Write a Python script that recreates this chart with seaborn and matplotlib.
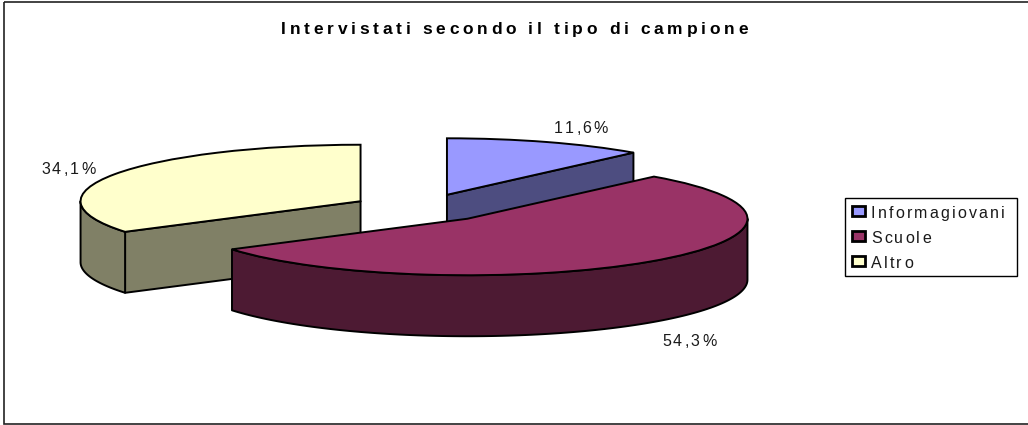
import numpy as np
import matplotlib
matplotlib.use('Agg')
import matplotlib.pyplot as plt
from matplotlib.patches import Rectangle
from matplotlib.text import Text
import seaborn as sns

# Chart data
title = 'Intervistati secondo il tipo di campione'
categories = ['Informagiovani', 'Scuole', 'Altro']
shares = [11.6, 54.3, 34.1]
slice_colors = ['#9999ff', '#993366', '#ffffcc']

# Pie geometry, in pixels of the 1028x425 picture
CENTER_X, CENTER_Y = 422, 208
RADIUS_X, RADIUS_Y = 280, 56.5
DEPTH = 61
EXPLODE = 0.25
LINE = '#000000'
LW = 1.4


class SpacedText(Text):
    # the original has wide letter spacing, matplotlib has no option for that
    def __init__(self, *args, tracking=0, **kwargs):
        super().__init__(*args, **kwargs)
        self.tracking = tracking

    def draw(self, renderer):
        prop = self.get_fontproperties()
        size_px = prop.get_size_in_points() * 100 / 72
        widths = []
        for ch in self.get_text():
            if ch == ' ':
                widths.append(0.28 * size_px)
            else:
                widths.append(renderer.get_text_width_height_descent(ch, prop, False)[0])
        total = sum(widths) + self.tracking * (len(widths) - 1)
        x, y = self.get_transform().transform(self.get_position())
        if renderer.flipy():
            y = renderer.get_canvas_width_height()[1] - y
        if self.get_ha() == 'center':
            x -= total / 2
        gc = renderer.new_gc()
        gc.set_foreground(self.get_color())
        gc.set_antialiased(True)
        for ch, w in zip(self.get_text(), widths):
            if ch != ' ':
                renderer.draw_text(gc, x, y, ch, prop, 0.0, ismath=False)
            x += w + self.tracking
        gc.restore()


def add_text(ax, x, y, s, size, tracking, ha='left', weight='normal', color='#1a1a1a'):
    t = SpacedText(x, y, s, tracking=tracking, ha=ha, va='baseline', fontsize=size,
                   fontweight=weight, color=color, family='Liberation Sans',
                   transform=ax.transData)
    ax.add_artist(t)
    return t


def side_walls(ax, start, end, wall_color, offset, zorder):
    # Walls below one top face: outer rim on the front half, plus cut faces turned to the viewer
    off_x, off_y = offset
    drop = DEPTH / RADIUS_Y
    style = dict(facecolor=wall_color, edgecolor=LINE, linewidth=LW, joinstyle='round', zorder=zorder)

    for face_angle, visible in [(start, np.sin(start) < -1e-6), (end, np.sin(end) > 1e-6)]:
        if visible:
            px = off_x + np.sin(face_angle)
            py = off_y + np.cos(face_angle)
            ax.fill([off_x, px, px, off_x], [off_y, py, py - drop, off_y - drop], **style)

    rim_from = max(start, np.pi / 2)
    rim_to = min(end, 3 * np.pi / 2)
    if rim_from < rim_to:
        t = np.linspace(rim_from, rim_to, 120)
        xs = off_x + np.sin(t)
        ys = off_y + np.cos(t)
        ax.fill(np.r_[xs, xs[::-1]], np.r_[ys, ys[::-1] - drop], **style)


def main():
    sns.set_theme(style='white')
    palette = sns.color_palette(slice_colors)
    wall_colors = [tuple(c * 0.5 for c in col) for col in palette]

    fig = plt.figure(figsize=(10.28, 4.25), dpi=100, facecolor='white')

    # Pie axes: one x unit is the long radius, one y unit the short radius
    ax = fig.add_axes([0, 0, 1, 1])
    wedges, _ = ax.pie(shares, colors=palette, startangle=90, counterclock=False,
                       explode=[EXPLODE] * len(shares), radius=1,
                       wedgeprops=dict(edgecolor=LINE, linewidth=LW))
    ax.set_aspect('auto')
    ax.set_xlim(-CENTER_X / RADIUS_X, (1028 - CENTER_X) / RADIUS_X)
    ax.set_ylim((CENTER_Y - 425) / RADIUS_Y, CENTER_Y / RADIUS_Y)
    ax.axis('off')

    fractions = np.array(shares) / sum(shares)
    edges = np.r_[0, np.cumsum(fractions)] * 2 * np.pi
    # Scuole is in front of the others, so it goes on top
    order = {0: 2, 2: 2, 1: 6}
    for i, wedge in enumerate(wedges):
        mid = (edges[i] + edges[i + 1]) / 2
        offset = (EXPLODE * np.sin(mid), EXPLODE * np.cos(mid))
        side_walls(ax, edges[i], edges[i + 1], wall_colors[i], offset, order[i])
        wedge.set_zorder(order[i] + 1)

    # Overlay in pixel coordinates for frame, texts and legend
    top = fig.add_axes([0, 0, 1, 1], facecolor='none')
    top.set_xlim(0, 1028)
    top.set_ylim(425, 0)
    top.axis('off')

    # the frame runs off the right side of the picture
    top.add_patch(Rectangle((3.5, 1.5), 1040, 422.5, fill=False, edgecolor='#222222', linewidth=1.2))

    add_text(top, 514.5, 34, title, 12.5, 3.7, ha='center', weight='bold', color='#000000')

    labels = [f'{v:.1f}%'.replace('.', ',') for v in shares]
    label_pos = [(554, 133), (662, 346), (41, 174)]
    for label, (x, y) in zip(labels, label_pos):
        add_text(top, x, y, label, 11.5, 2.2)

    top.add_patch(Rectangle((845, 198), 172, 78, facecolor='white', edgecolor='#000000', linewidth=1.0))
    legend_y = [218, 242.5, 268]
    for name, color, y in zip(categories, palette, legend_y):
        top.add_patch(Rectangle((852, y - 12), 13, 10, facecolor=color, edgecolor='#000000', linewidth=2.0))
        add_text(top, 871, y, name, 11.5, 2.2)

    fig.savefig('out.png', dpi=100)


if __name__ == '__main__':
    main()
